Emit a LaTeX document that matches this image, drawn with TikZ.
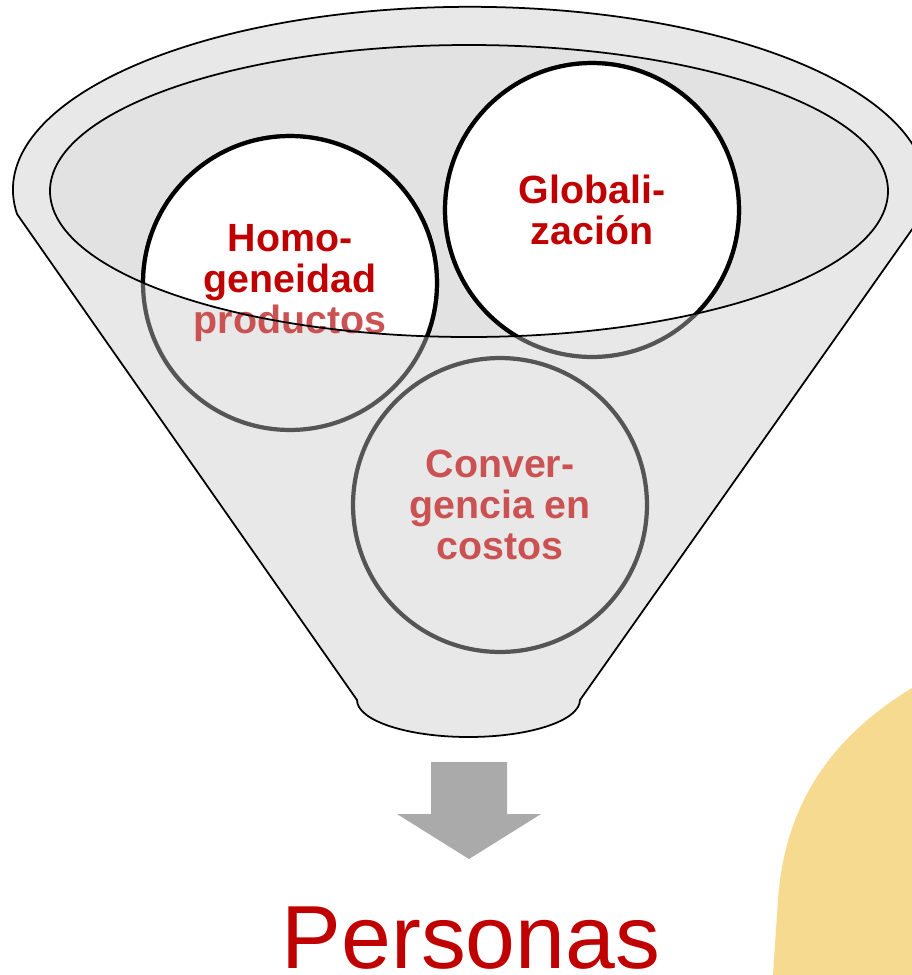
\documentclass[tikz,border=0pt]{standalone}
\usepackage{fontspec}
\setmainfont{Liberation Sans}
\usepackage{tikz}

\definecolor{funnelgray}{RGB}{232,232,232}
\definecolor{mouthgray}{RGB}{226,226,226}
\definecolor{textred}{RGB}{192,0,0}
\definecolor{fadedred}{RGB}{202,82,82}
\definecolor{ringgray}{RGB}{85,85,85}
\definecolor{arrowgray}{RGB}{170,170,170}
\definecolor{sand}{RGB}{245,218,143}

\begin{document}
\begin{tikzpicture}[x=0.02cm, y=0.02cm, line width=1pt,
        ring/.style={circle, minimum size=5.88cm, inner sep=0pt, align=center,
                font=\bfseries\fontsize{22.4}{23.5}\selectfont},
        ringfront/.style={ring, draw=black, fill=white, text=textred, line width=2.4pt},
        ringback/.style={ring, draw=ringgray, fill=funnelgray, text=fadedred, line width=2.4pt}]
                \clip (0, 0) rectangle (912, -975);
                % background blob
                \fill[sand] (912, -688) .. controls (835, -735) and (785, -800) .. (778, -900)
                        -- (773, -975) -- (912, -975) -- cycle;
                % funnel body
                \draw[fill=funnelgray] (17, -214) arc[start angle=187.6, end angle=-7.6, x radius=457, y radius=183]
                        -- (580, -700) arc[start angle=0, end angle=-180, x radius=111.5, y radius=37]
                        -- cycle;
                \fill[mouthgray] (469, -191) ellipse [x radius=419, y radius=146];
                % circles seen through the funnel
                \node[ringback] (homoBack) at (290, -283) {Homo-\\geneidad\\productos};
                \node[ringback] (globalBack) at (592, -210) {Globali-\\zación};
                \node[ringback] (convBack) at (500, -505) {Conver-\\gencia en\\costos};
                % circles above the rim
                \begin{scope}
                        \clip (50, -191) arc[start angle=180, end angle=360, x radius=419, y radius=146]
                                -- (888, 0) -- (50, 0) -- cycle;
                        \node[ringfront] (homo) at (290, -283) {Homo-\\geneidad\\\textcolor{fadedred}{productos}};
                        \node[ringfront] (global) at (592, -210) {Globali-\\zación};
                        \node[ringfront] (conv) at (500, -505) {Conver-\\gencia en\\costos};
                \end{scope}
                \draw (469, -191) ellipse [x radius=419, y radius=146];
                % arrow and result
                \fill[arrowgray] (431, -762) -- (507, -762) -- (507, -814) -- (541, -814)
                        -- (469, -859) -- (397, -814) -- (431, -814) -- cycle;
                \node[anchor=base, text=textred, font=\fontsize{51}{60}\selectfont, inner sep=0pt]
                        (personas) at (471, -968) {Personas};
        \end{tikzpicture}
\end{document}
